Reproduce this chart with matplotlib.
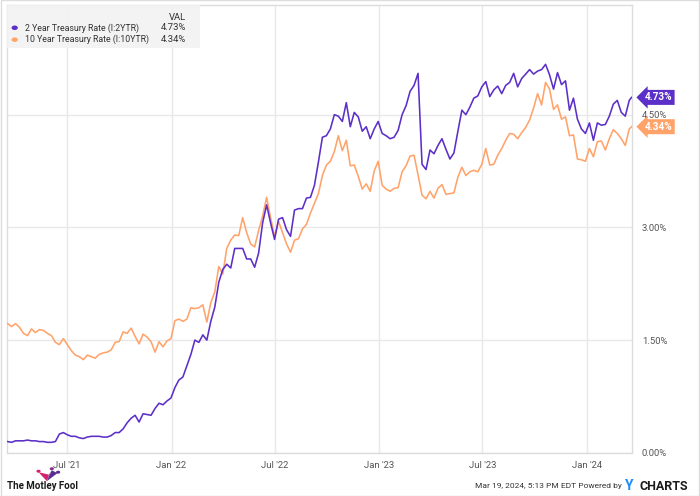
import matplotlib
matplotlib.use("Agg")
import matplotlib.pyplot as plt
import matplotlib.transforms as mtransforms
from matplotlib.patches import Rectangle, Polygon, Circle
import pandas as pd

plt.rcParams['font.family'] = ['Roboto', 'DejaVu Sans']

# weekly (Friday) closes, 2021-03-19 .. 2024-03-15, then last value 2024-03-19
two_year = [
    # 2021
    0.15, 0.14,
    0.16, 0.16, 0.16, 0.17, 0.16,
    0.16, 0.15, 0.15, 0.14,
    0.14, 0.15, 0.25, 0.27,
    0.24, 0.22, 0.22, 0.20, 0.19,
    0.21, 0.22, 0.22, 0.22,
    0.21, 0.21, 0.23, 0.27,
    0.27, 0.32, 0.40, 0.46, 0.50,
    0.41, 0.52, 0.51, 0.50,
    0.59, 0.66, 0.64, 0.69, 0.73,
    # 2022
    0.87, 0.97, 1.01, 1.16,
    1.31, 1.50, 1.47, 1.57,
    1.50, 1.75, 1.94, 2.27,
    2.44, 2.51, 2.46, 2.72, 2.72,
    2.72, 2.58, 2.58, 2.47,
    2.66, 3.06, 3.30, 3.06,
    2.84, 3.11, 3.13, 2.97, 2.88,
    3.23, 3.25, 3.25, 3.39,
    3.40, 3.56, 3.87, 4.20, 4.22,
    4.31, 4.50, 4.48, 4.41,
    4.66, 4.34, 4.53, 4.47,
    4.28, 4.34, 4.18, 4.31, 4.41,
    # 2023
    4.25, 4.22, 4.18, 4.20,
    4.29, 4.50, 4.62, 4.81,
    4.89, 5.05, 3.84, 3.77, 4.03,
    3.98, 4.09, 4.18, 4.04,
    3.91, 3.99, 4.28, 4.56,
    4.50, 4.60, 4.72, 4.75, 4.87,
    4.94, 4.74, 4.83, 4.88,
    4.78, 4.89, 4.93, 5.05,
    4.87, 4.98, 5.04, 5.10, 5.04,
    5.08, 5.10, 5.17, 5.03,
    4.84, 5.06, 4.90, 4.95,
    4.56, 4.72, 4.44, 4.31, 4.25,
    # 2024
    4.39, 4.16, 4.39, 4.36,
    4.37, 4.48, 4.64, 4.69,
    4.53, 4.48, 4.69,
    4.73,
]

ten_year = [
    # 2021
    1.72, 1.68,
    1.72, 1.67, 1.59, 1.56, 1.65,
    1.60, 1.64, 1.63, 1.59,
    1.56, 1.47, 1.44, 1.52,
    1.44, 1.36, 1.30, 1.28, 1.24,
    1.30, 1.28, 1.26, 1.31,
    1.33, 1.34, 1.37, 1.47,
    1.48, 1.61, 1.59, 1.66, 1.55,
    1.45, 1.58, 1.54, 1.48,
    1.34, 1.48, 1.41, 1.49, 1.52,
    # 2022
    1.76, 1.78, 1.75, 1.78,
    1.93, 1.92, 1.93, 1.97,
    1.74, 2.00, 2.14, 2.48,
    2.38, 2.72, 2.83, 2.90, 2.89,
    3.13, 2.93, 2.78, 2.74,
    2.96, 3.15, 3.40, 3.13,
    2.88, 3.08, 2.93, 2.78, 2.67,
    2.83, 2.85, 2.98, 3.04,
    3.19, 3.32, 3.45, 3.69, 3.83,
    3.88, 4.01, 4.22, 4.02,
    4.16, 3.82, 3.83, 3.68,
    3.51, 3.58, 3.48, 3.75, 3.88,
    # 2023
    3.56, 3.51, 3.48, 3.52,
    3.53, 3.74, 3.82, 3.95,
    3.96, 3.70, 3.43, 3.38, 3.48,
    3.39, 3.52, 3.57, 3.44,
    3.45, 3.46, 3.67, 3.80,
    3.69, 3.74, 3.76, 3.74, 3.84,
    4.05, 3.83, 3.84, 3.96,
    4.05, 4.16, 4.25, 4.24,
    4.18, 4.26, 4.33, 4.43, 4.59,
    4.78, 4.63, 4.93, 4.84,
    4.57, 4.63, 4.44, 4.47,
    4.22, 4.23, 3.91, 3.90, 3.88,
    # 2024
    4.05, 3.94, 4.14, 4.15,
    4.03, 4.18, 4.30, 4.25,
    4.18, 4.09, 4.31,
    4.34,
]

dates = list(pd.date_range('2021-03-19', periods=157, freq='W-FRI')) + [pd.Timestamp('2024-03-19')]

series_names = ["2 Year Treasury Rate (I:2YTR)", "10 Year Treasury Rate (I:10YTR)"]
series_vals = ["4.73%", "4.34%"]
x_ticks = ['2021-07-01', '2022-01-01', '2022-07-01', '2023-01-01', '2023-07-01', '2024-01-01']
x_labels = ["Jul '21", "Jan '22", "Jul '22", "Jan '23", "Jul '23", "Jan '24"]
y_ticks = [0.0, 1.5, 3.0, 4.5]

purple = '#5b2fc8'
orange = '#ffa36a'
grid_c = '#e8e8e8'
text_c = '#555555'

fig = plt.figure(figsize=(7, 4.96), dpi=100)
ax = fig.add_axes([0.01, 0.087, 0.893, 0.903])

ax.plot(dates, ten_year, color=orange, lw=1.15, zorder=3)
ax.plot(dates, two_year, color=purple, lw=1.15, zorder=4)

ax.set_xlim(pd.Timestamp('2021-03-18'), pd.Timestamp('2024-03-20'))
ax.set_ylim(0, 5.96)

ax.set_xticks([pd.Timestamp(d) for d in x_ticks])
ax.set_xticklabels(x_labels)
ax.set_yticks(y_ticks)
ax.set_yticklabels(["%.2f%%" % v for v in y_ticks])
ax.yaxis.tick_right()
ax.tick_params(axis='both', length=0, labelsize=6.8, colors=text_c)
ax.tick_params(axis='x', pad=6)
ax.tick_params(axis='y', pad=7)
ax.grid(True, color=grid_c, lw=1)
ax.set_axisbelow(True)
for s in ax.spines.values():
    s.set_color('#dcdcdc')
    s.set_linewidth(1)

# end-of-line value tags
tr = mtransforms.blended_transform_factory(ax.transAxes, ax.transData)
for val, txt, col in [(two_year[-1], series_vals[0], purple), (ten_year[-1], series_vals[1], orange)]:
    ax.text(1.02, val, txt, transform=tr, color='white', fontsize=7.2, fontweight='bold',
            va='center', ha='left', clip_on=False, zorder=6,
            bbox=dict(boxstyle='larrow,pad=0.25', fc=col, ec='none'))

# legend box
fig.patches.append(Rectangle((0.01, 0.903), 0.276, 0.087, transform=fig.transFigure,
                             fc='#f2f2f2', ec='none', alpha=0.85, zorder=5))
fig.text(0.266, 0.965, "VAL", fontsize=6.8, color='#333333', ha='right', va='center', zorder=6)
for i, (name, v, col) in enumerate(zip(series_names, series_vals, [purple, orange])):
    yy = 0.944 - i * 0.024
    fig.patches.append(Circle((0.021, yy), 0.0045, transform=fig.transFigure, fc=col, ec='none', zorder=6))
    fig.text(0.036, yy, name, fontsize=6.3, color='#333333', va='center', zorder=6)
    fig.text(0.266, yy, v, fontsize=6.8, color='#333333', va='center', ha='right', zorder=6)

# footer
fig.text(0.01, 0.02, "The Motley Fool", fontsize=7, fontweight='bold', color='#1a1a1a', va='center')
jester = [
    ([(0.067, 0.030), (0.055, 0.048), (0.070, 0.043)], '#d61f6e'),
    ([(0.067, 0.030), (0.070, 0.043), (0.074, 0.052)], '#8a2c8e'),
    ([(0.067, 0.030), (0.074, 0.052), (0.082, 0.046)], '#5b2d90'),
]
for pts, col in jester:
    fig.patches.append(Polygon(pts, closed=True, transform=fig.transFigure, fc=col, ec='none'))
for cx, cy, col in [(0.055, 0.050, '#d61f6e'), (0.074, 0.055, '#8a2c8e'), (0.083, 0.048, '#5b2d90')]:
    fig.patches.append(Circle((cx, cy), 0.003, transform=fig.transFigure, fc=col, ec='none'))

fig.text(0.889, 0.02, "Mar 19, 2024, 5:13 PM EDT Powered by", fontsize=6, color='#333333',
         ha='right', va='center')
fig.text(0.893, 0.021, "Y", fontsize=10, fontweight='bold', color='#1a8cff', ha='left', va='center')
fig.text(0.913, 0.02, "CHARTS", fontsize=9, fontweight='bold', color='#1a1a1a', ha='left', va='center')

fig.patches.append(Rectangle((0.001, 0.001), 0.998, 0.998, transform=fig.transFigure,
                             fc='none', ec='#dddddd', lw=1))

fig.savefig("out.png", dpi=100)
